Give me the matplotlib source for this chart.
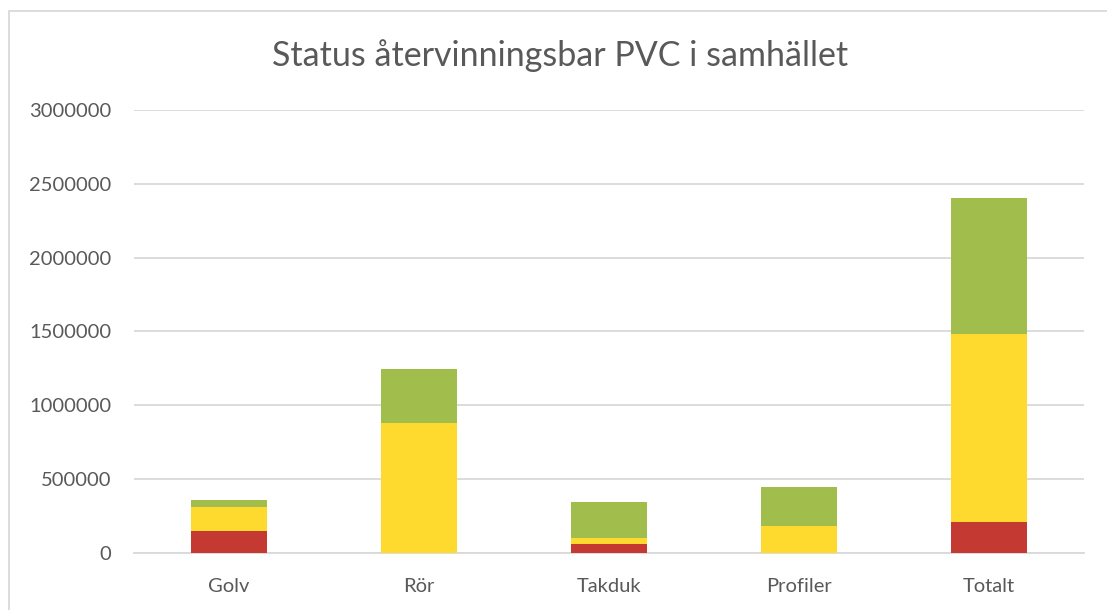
import matplotlib
matplotlib.use("Agg")
import matplotlib.pyplot as plt
from matplotlib.patches import Rectangle

categories = ["Golv", "Rör", "Takduk", "Profiler", "Totalt"]
red_vals = [150000, 0, 60000, 0, 210000]
yellow_vals = [160000, 881000, 45000, 186000, 1272000]
green_vals = [52000, 365000, 243000, 263000, 923000]
yticks = [0, 500000, 1000000, 1500000, 2000000, 2500000, 3000000]
title = "Status återvinningsbar PVC i samhället"

W, H = 1107, 610
fig = plt.figure(figsize=(W / 100, H / 100), dpi=100)
plt.rcParams['font.family'] = ['Lato', 'DejaVu Sans']

ax = fig.add_axes([134 / W, 1 - 553.3 / H, (1084 - 134) / W, (553.3 - 109.7) / H])

x = list(range(len(categories)))
bw = 0.4
ax.bar(x, red_vals, width=bw, color="#C43A32", zorder=3)
bottoms = red_vals
ax.bar(x, yellow_vals, width=bw, bottom=bottoms, color="#FFDA2E", zorder=3)
bottoms2 = [a + b for a, b in zip(red_vals, yellow_vals)]
ax.bar(x, green_vals, width=bw, bottom=bottoms2, color="#A1BD4C", zorder=3)

ax.set_xlim(-0.5, len(categories) - 0.5)
ax.set_ylim(0, 3000000)
ax.set_yticks(yticks)
ax.set_yticklabels([str(v) for v in yticks])
ax.set_xticks(x)
ax.set_xticklabels(categories)
ax.yaxis.grid(True, color="#D9D9D9", linewidth=1.3, zorder=0)
ax.set_axisbelow(True)
for s in ["top", "right", "left"]:
    ax.spines[s].set_visible(False)
ax.spines["bottom"].set_color("#D9D9D9")
ax.spines["bottom"].set_linewidth(1.3)
ax.tick_params(axis="both", length=0, labelsize=14.5, colors="#595959")
ax.tick_params(axis="y", pad=16.5)
ax.tick_params(axis="x", pad=18)

fig.text(0.5 * (270 + 850) / W, 1 - 56 / H, title, ha="center", va="center",
         fontsize=24.5, color="#595959")

# chart border
fig.patches.append(Rectangle((9 / W, -0.1), 1.2, 1 - 11 / H + 0.1, transform=fig.transFigure,
                             fill=False, edgecolor="#D9D9D9", linewidth=1.3))

fig.savefig("out.png", dpi=100)
